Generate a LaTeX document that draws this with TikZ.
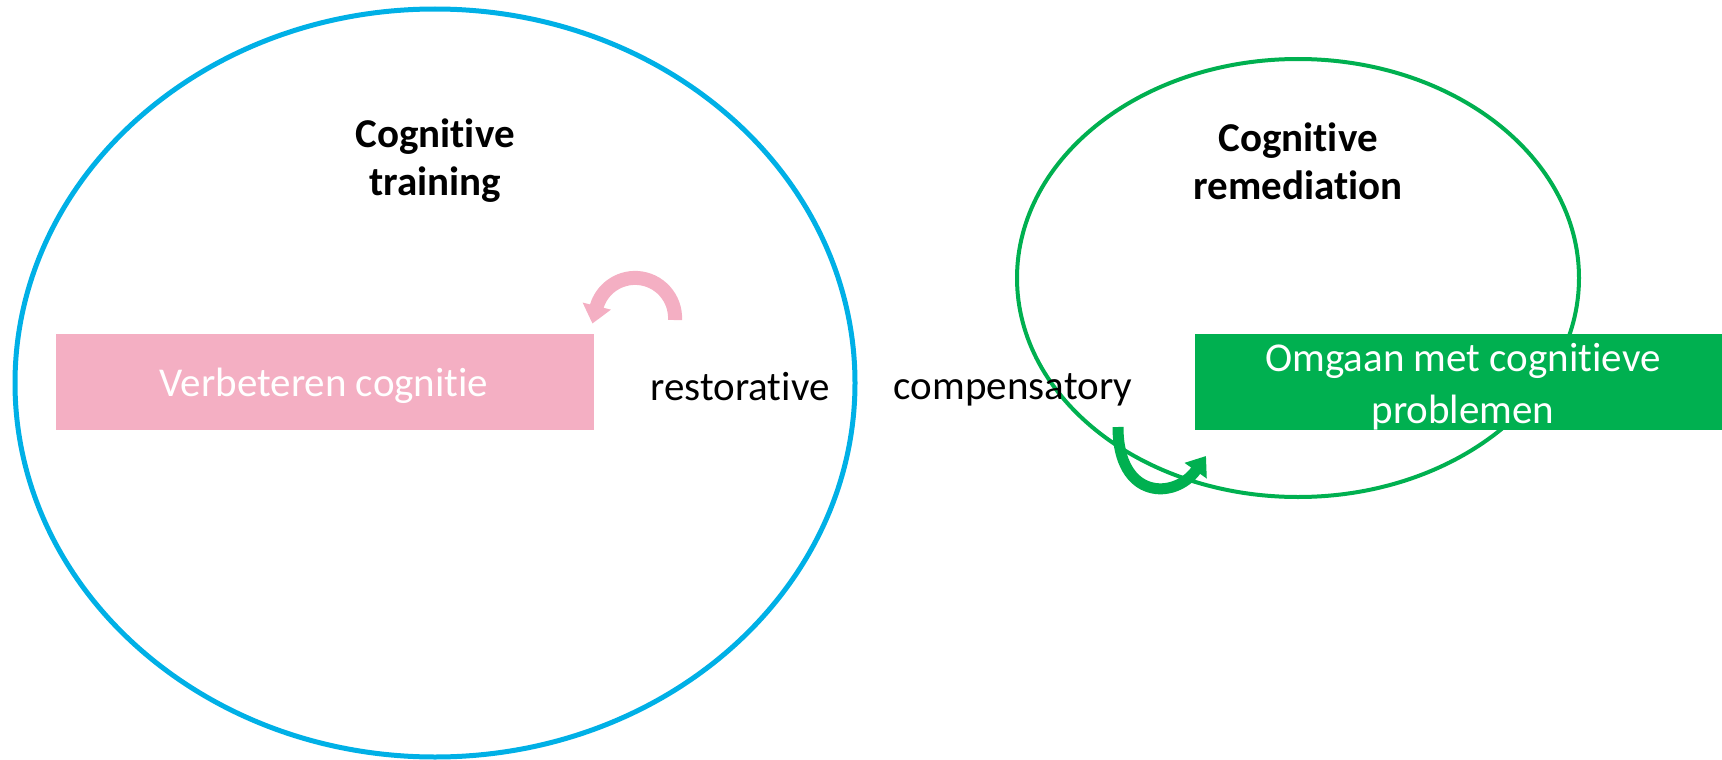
\documentclass[tikz,border=0pt]{standalone}
\usepackage{fontspec}
\setmainfont{Carlito}[RawFeature=-liga]
\usetikzlibrary{arrows.meta}
\definecolor{cblue}{RGB}{0,176,230}
\definecolor{cgreen}{RGB}{0,176,80}
\definecolor{cpink}{RGB}{244,175,195}
\tikzset{
  lbl/.style={font=\fontsize{41}{52}\selectfont, align=center, inner sep=0pt},
  title/.style={lbl, font=\fontsize{41}{48}\selectfont\bfseries},
  boxtext/.style={lbl, text=white},
}
\begin{document}
\begin{tikzpicture}[x=1pt,y=-1pt]
\useasboundingbox (0,0) rectangle (1722,760);
% ellipses
\draw[cblue, line width=5pt] (435,383) ellipse[x radius=420, y radius=374];
\draw[cgreen, line width=4pt] (1298,278) ellipse[x radius=281, y radius=219];
% boxes
\fill[cpink] (56,334) rectangle (594,430);
\fill[cgreen] (1195,334) rectangle (1722,430);
\node[boxtext] (verb) at (324,386) {Verbeteren cognitie};
\node[boxtext] (omg) at (1463,387) {Omgaan met cognitieve\\problemen};
% titles
\node[title] (ct) at (435,161) {Cognitive\\training};
\node[title] (cr) at (1298,161) {Cognitive\\remediation};
% middle labels
\node[lbl] (rest) at (740,387) {restorative};
\node[lbl] (comp) at (1013,390) {compensatory};
% arrows
\draw[cpink, line width=14pt, -{Triangle[width=28pt,length=18pt]}]
  (675,320) arc[start angle=3, end angle=-165, radius=40] -- ++(-4,16);
\draw[cgreen, line width=11pt, -{Triangle[width=26pt,length=18pt]}]
  (1118,427) .. controls (1118,500) and (1175,500) .. (1206,456);
\end{tikzpicture}
\end{document}
